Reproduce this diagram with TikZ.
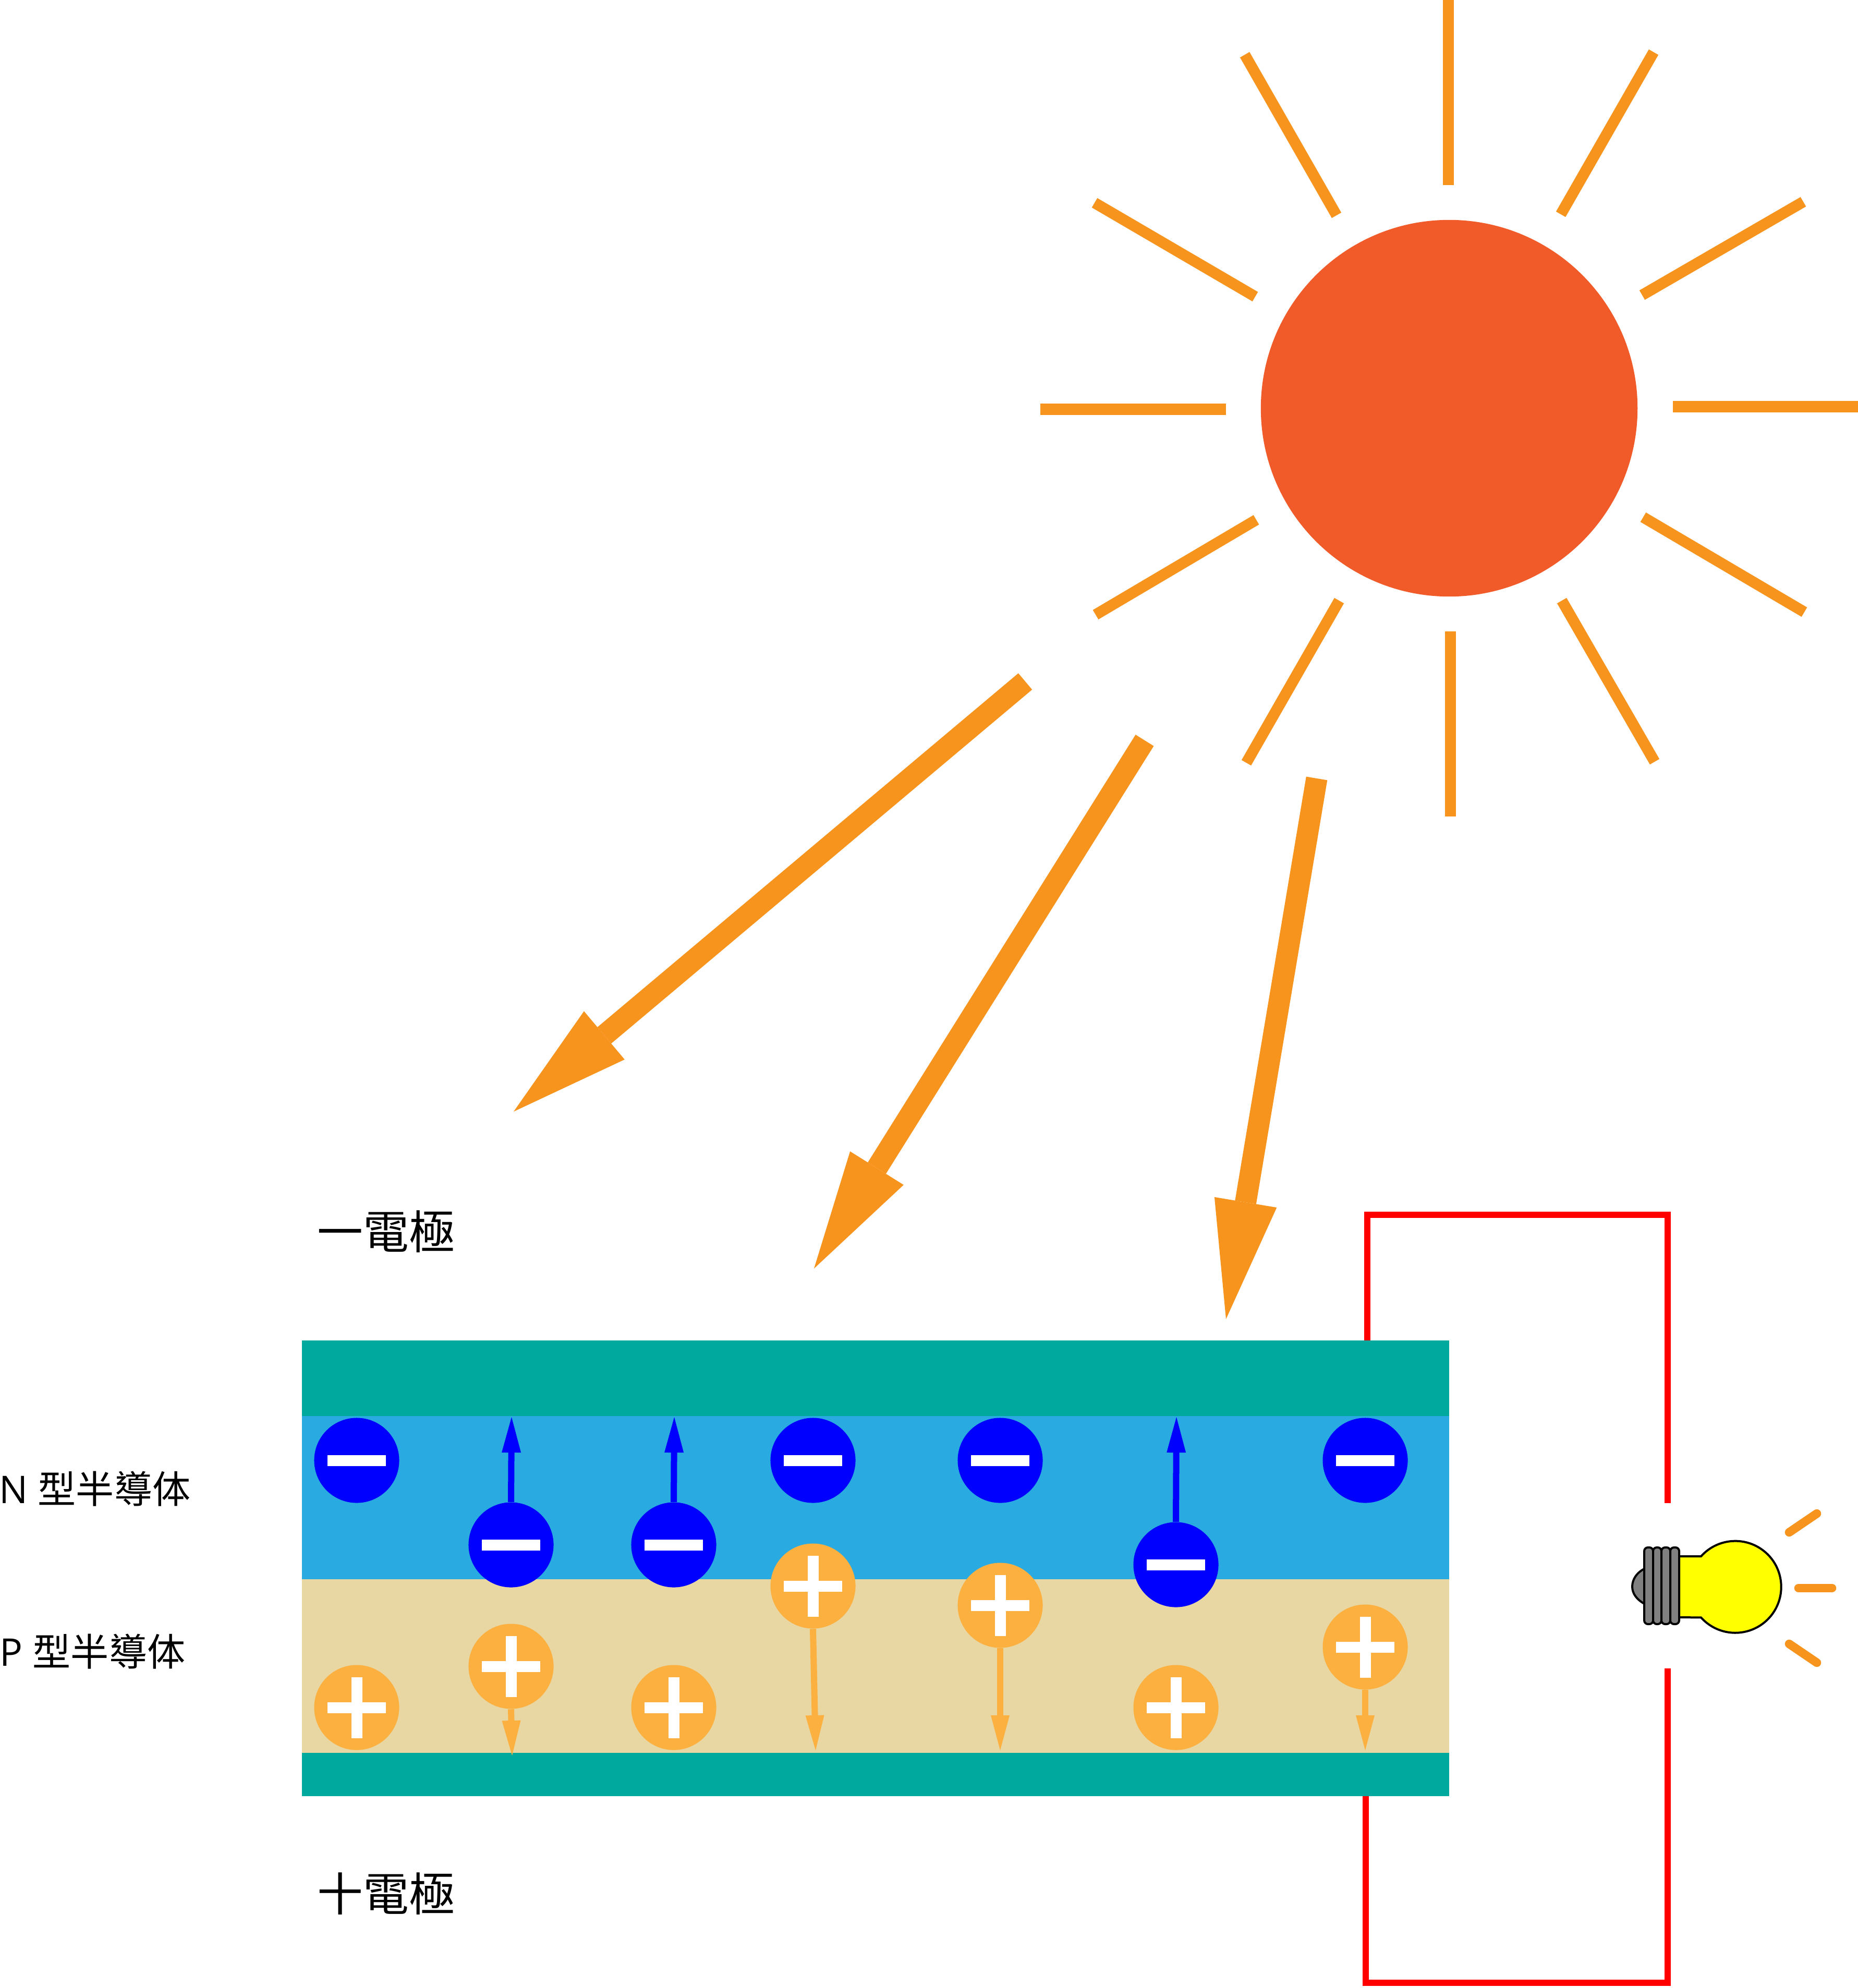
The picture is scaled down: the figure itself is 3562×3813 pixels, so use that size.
\documentclass[tikz,border=0pt]{standalone}
\usepackage{fontspec}
\setmainfont{Open Sans}
\newfontfamily\cjk{Noto Sans CJK TC}
\usetikzlibrary{arrows.meta}
\definecolor{sunc}{HTML}{F15A29}
\definecolor{rayc}{HTML}{F7941E}
\definecolor{tealc}{HTML}{00A99D}
\definecolor{bluec}{HTML}{29ABE2}
\definecolor{tanc}{HTML}{E8D6A3}
\definecolor{holec}{HTML}{FBB040}
\definecolor{elecc}{HTML}{0000FF}
\definecolor{wirec}{HTML}{FF0000}
\definecolor{basec}{HTML}{808080}
\definecolor{glassc}{HTML}{FFFF00}
\tikzset{
  ray/.style={draw=rayc,line width=0.21cm},
  bigarrow/.style={draw=rayc,line width=0.41cm,-{Triangle[length=2.27cm,width=1.21cm,line width=0pt,sep=0pt]},rayc},
  wire/.style={draw=wirec,line width=0.125cm,line join=miter},
  bulbline/.style={draw=black,line width=0.04cm},
  thread/.style={bulbline,fill=basec,rounded corners=0.07cm},
  bulbray/.style={draw=rayc,line width=0.165cm,line cap=round},
  chg/.style={circle,inner sep=0pt,minimum size=1.63cm},
  elec/.style={chg,fill=elecc,path picture={\fill[white] (-56,-10.5) rectangle (56,10.5);}},
  hole/.style={chg,fill=holec,path picture={\fill[white] (-56,-10.5) rectangle (56,10.5);\fill[white] (-10.5,-58.5) rectangle (10.5,58.5);}},
  earrow/.style={draw=elecc,line width=0.12cm,-{Triangle[length=0.68cm,width=0.37cm,line width=0pt,sep=0pt]},elecc},
  harrow/.style={draw=holec,line width=0.12cm,-{Triangle[length=0.67cm,width=0.36cm,line width=0pt,sep=0pt]},holec},
  bigtxt/.style={anchor=west,inner sep=0pt,font=\fontsize{25pt}{25pt}\selectfont\cjk},
  smalltxt/.style={anchor=west,inner sep=0pt,font=\fontsize{20.8pt}{25pt}\selectfont},
}
\begin{document}
\begin{tikzpicture}[x=0.01cm,y=-0.01cm]
\useasboundingbox (0,0) rectangle (3562,3813);
\fill[white] (0,0) rectangle (3562,3813);
% sun
\node[circle,fill=sunc,inner sep=0pt,minimum size=7.22cm] (sun) at (2779,783) {};
\foreach \xa/\ya/\xb/\yb in {2777/0/2777/355, 2781/1211/2781/1566, 1995/785/2351/785, 3208/780/3563/780,
  2387/105/2563/413, 3171/100/2993/411, 2099/389/2407/569, 3458/387/3149/566,
  2101/1179/2409/997, 3460/1174/3151/992, 2390/1463/2568/1152, 3173/1461/2995/1152}
  \draw[ray] (\xa,\ya) -- (\xb,\yb);
% incoming light
\coordinate (a1s) at (1966,1307); \coordinate (a1e) at (985,2132);
\coordinate (a2s) at (2195,1420); \coordinate (a2e) at (1561,2433);
\coordinate (a3s) at (2525,1493); \coordinate (a3e) at (2351,2530);
\draw[bigarrow] (a1s) -- (a1e);
\draw[bigarrow] (a2s) -- (a2e);
\draw[bigarrow] (a3s) -- (a3e);
% wires
\coordinate (wta) at (2622,2575); \coordinate (wtb) at (2622,2330);
\coordinate (wtc) at (3198,2330); \coordinate (wtd) at (3198,2883);
\coordinate (wba) at (2619,3440); \coordinate (wbb) at (2619,3803);
\coordinate (wbc) at (3198,3803); \coordinate (wbd) at (3198,3200);
\draw[wire] (wta) -- (wtb) -- (wtc) -- (wtd);
\draw[wire] (wba) -- (wbb) -- (wbc) -- (wbd);
% cell layers
\fill[tealc] (579,2571) rectangle (2779,2716);
\fill[bluec] (579,2716) rectangle (2779,3029);
\fill[tanc] (579,3029) rectangle (2779,3362);
\fill[tealc] (579,3362) rectangle (2779,3445);
% labels
\node[bigtxt] (neg) at (608,2362) {一電極};
\node[bigtxt] (pos) at (608,3632) {十電極};
\node[smalltxt] (ntype) at (-2,2856) {N {\cjk 型半導体}};
\node[smalltxt] (ptype) at (-1,3168) {P {\cjk 型半導体}};
% charges
\node[elec] (m1) at (684,2801) {};
\node[elec] (m2) at (980,2963) {};
\node[elec] (m3) at (1292,2963) {};
\node[elec] (m4) at (1559,2801) {};
\node[elec] (m5) at (1918,2801) {};
\node[elec] (m6) at (2255,3001) {};
\node[elec] (m7) at (2618,2801) {};
\coordinate (m2t) at (981,2718);
\coordinate (m3t) at (1293,2718);
\coordinate (m6t) at (2256,2718);
\draw[earrow] (m2.north) -- (m2t);
\draw[earrow] (m3.north) -- (m3t);
\draw[earrow] (m6.north) -- (m6t);
\coordinate (p2t) at (982,3367);
\coordinate (p4t) at (1564,3357);
\coordinate (p5t) at (1918,3357);
\coordinate (p7t) at (2618,3357);
\node[hole] (p1) at (684,3275) {};
\node[hole] (p2) at (980,3196) {};
\node[hole] (p3) at (1292,3275) {};
\node[hole] (p4) at (1559,3042) {};
\node[hole] (p5) at (1918,3079) {};
\node[hole] (p6) at (2255,3275) {};
\node[hole] (p7) at (2618,3159) {};
\draw[harrow] (p2.south) -- (p2t);
\draw[harrow] (p4.south) -- (p4t);
\draw[harrow] (p5.south) -- (p5t);
\draw[harrow] (p7.south) -- (p7t);
% bulb
\draw[bulbline,fill=glassc] (3215,2985) -- (3262,2985) arc[start angle=138.2,end angle=-138.2,radius=0.88cm] -- (3215,3102) -- cycle;
\draw[bulbline,fill=basec] (3155,3008) .. controls (3138,3016) and (3130,3030) .. (3130,3043) .. controls (3130,3056) and (3138,3068) .. (3155,3077) -- cycle;
\draw[thread] (3153,2968) rectangle (3170,3115);
\draw[thread] (3170,2968) rectangle (3186,3115);
\draw[thread] (3186,2968) rectangle (3203,3115);
\draw[thread] (3203,2968) rectangle (3220,3115);
\draw[bulbray] (3431,2939) -- (3484,2903);
\draw[bulbray] (3449,3046) -- (3513,3046);
\draw[bulbray] (3431,3153) -- (3484,3189);
\end{tikzpicture}
\end{document}
